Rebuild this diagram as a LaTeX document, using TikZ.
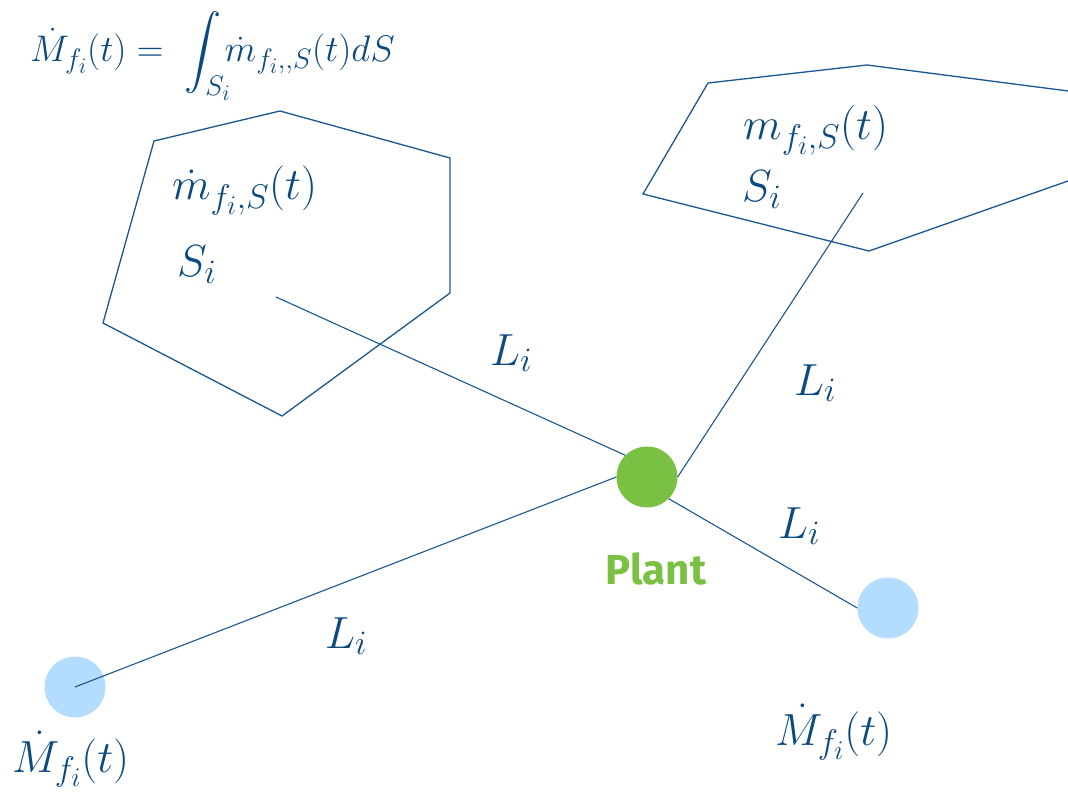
\RequirePackage{fix-cm}
\documentclass[tikz,border=0pt]{standalone}
\usepackage{fontspec}
\DeclareFontFamily{OMX}{cmex}{}
\DeclareFontShape{OMX}{cmex}{m}{n}{<->cmex10}{}
\renewcommand\defaultscriptratio{.76}
\renewcommand\defaultscriptscriptratio{.6}
\newfontfamily\plantfont{Fira Sans}
\definecolor{dblue}{HTML}{0B4A80}
\definecolor{lineblue}{HTML}{1A5690}
\definecolor{lblue}{HTML}{B3DCFF}
\definecolor{pgreen}{HTML}{7AC143}
\begin{document}
\begin{tikzpicture}[x=1pt,y=-1pt,
  conn/.style={draw=lineblue, line width=1.1pt},
  region/.style={draw=lineblue, line width=1.3pt, line join=miter},
  lbl/.style={text=dblue, inner sep=0pt, anchor=base west, font=\fontsize{45}{52}\selectfont},
  eqn/.style={text=dblue, inner sep=0pt, anchor=base west, font=\fontsize{37}{44}\selectfont},
  src/.style={circle, fill=lblue, minimum size=61pt, inner sep=0pt},
  plantdot/.style={circle, fill=pgreen, minimum size=61pt, inner sep=0pt},
  plantlbl/.style={text=pgreen, inner sep=0pt, font=\plantfont\bfseries\fontsize{42}{50}\selectfont}]
\useasboundingbox (0,0) rectangle (1068,794);
\clip (0,0) rectangle (1068,794);
% regions
\draw[region] (154,141) -- (280,111) -- (450,158) -- (450,293) -- (282,416) -- (103,323) -- cycle;
\draw[region] (708,83) -- (867,65) -- (1120,97.7) -- (1120,162.7) -- (869,251) -- (643,194) -- cycle;
% nodes
\node[src] (src1) at (75,687) {};
\node[src] (src2) at (888,608) {};
\node[plantdot] (plant) at (647,477) {};
\coordinate (reg1) at (276,297);
\coordinate (reg2) at (863,193);
% connectors
\draw[conn] (reg1) -- (plant.135);
\draw[conn] (reg2) -- (plant.0);
\draw[conn] (plant.-45) -- (src2.180);
\draw[conn] (plant.180) -- (src1.center);
% labels
\node[plantlbl] (plantname) at (656,569) {Plant};
\node[eqn] (formula) at (30,62) {$\dot M_{f_i}(t) =\ \displaystyle\int\nolimits_{S_i}\!\!\dot m_{f_{i},,S}(t)dS$};
\node[lbl] (m1) at (172,200) {$\dot m_{f_i,S}(t)$};
\node[lbl] (s1) at (177,277) {$S_i$};
\node[lbl] (m2) at (743,140) {$m_{f_i,S}(t)$};
\node[lbl] (s2) at (742,202) {$S_i$};
\node[lbl] (l1) at (490,365) {$L_i$};
\node[lbl] (l2) at (794,395) {$L_i$};
\node[lbl] (l3) at (778,538) {$L_i$};
\node[lbl] (l4) at (325,648) {$L_i$};
\node[lbl] (o1) at (12,772) {$\dot M_{f_i}(t)$};
\node[lbl] (o2) at (775,745) {$\dot M_{f_i}(t)$};
\end{tikzpicture}
\end{document}
